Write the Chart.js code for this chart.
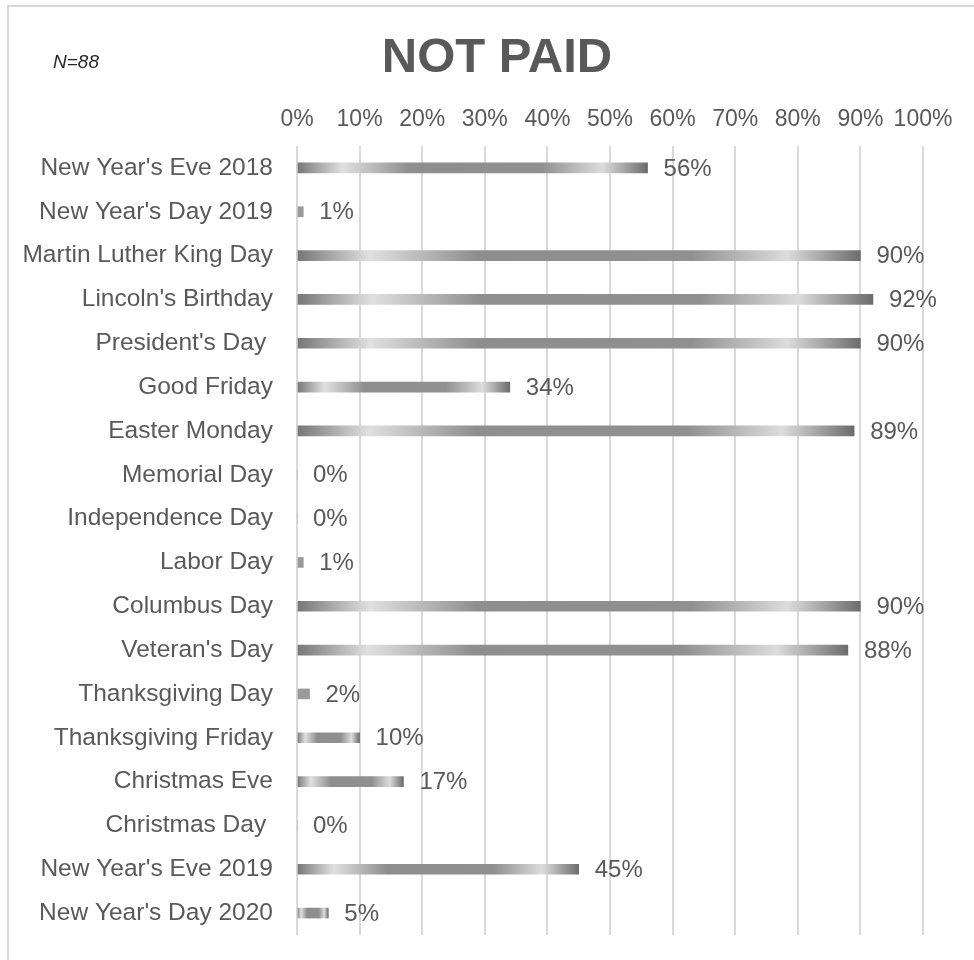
<!DOCTYPE html>
<html>
<head>
<meta charset="utf-8">
<script src="https://cdn.jsdelivr.net/npm/chart.js@4.4.0/dist/chart.umd.min.js"></script>
<style>
  body { margin: 0; background: #fff; overflow: hidden; }
  #wrap { position: relative; width: 974px; height: 960px; overflow: hidden; }
  #frame { position: absolute; left: 7px; top: 5px; width: 1100px; height: 1100px; border: 2px solid #d9d9d9; }
  canvas { position: absolute; left: 0; top: 0; }
</style>
</head>
<body>
<div id="wrap">
  <div id="frame"></div>
  <canvas id="graph" width="974" height="960"></canvas>
</div>
<script>
const holidays = [
  "New Year's Eve 2018", "New Year's Day 2019", "Martin Luther King Day", "Lincoln's Birthday",
  "President's Day ", "Good Friday", "Easter Monday", "Memorial Day", "Independence Day",
  "Labor Day", "Columbus Day", "Veteran's Day", "Thanksgiving Day", "Thanksgiving Friday",
  "Christmas Eve", "Christmas Day ", "New Year's Eve 2019", "New Year's Day 2020"
];
const notPaid = [56, 1, 90, 92, 90, 34, 89, 0, 0, 1, 90, 88, 2, 10, 17, 0, 45, 5];
const axisTicks = [0, 10, 20, 30, 40, 50, 60, 70, 80, 90, 100];

const chartTitle = "NOT PAID";
const sampleSize = "N=88";

const fontFamily = "'Liberation Sans', Arial, sans-serif";
const textColor = "#595959";

// gradient along each bar, like the excel fill
function barFill(context) {
  const chart = context.chart;
  if (!chart.chartArea) return "#999999";
  const xs = chart.scales.x;
  const x0 = xs.getPixelForValue(0);
  const x1 = xs.getPixelForValue(context.raw);
  if (x1 - x0 < 15) return "#9a9a9a"; // tiny bars just look flat grey
  const g = chart.ctx.createLinearGradient(x0, 0, x1, 0);
  g.addColorStop(0, "#767676");
  g.addColorStop(0.13, "#e0e0e0");
  g.addColorStop(0.32, "#8e8e8e");
  g.addColorStop(0.7, "#909090");
  g.addColorStop(0.87, "#dcdcdc");
  g.addColorStop(1, "#6c6c6c");
  return g;
}

const valueLabels = {
  id: "valueLabels",
  afterDatasetsDraw(chart) {
    const ctx = chart.ctx;
    const meta = chart.getDatasetMeta(0);
    ctx.save();
    ctx.font = "24px " + fontFamily;
    ctx.fillStyle = textColor;
    ctx.textAlign = "left";
    ctx.textBaseline = "middle";
    meta.data.forEach((bar, i) => {
      ctx.fillText(notPaid[i] + "%", bar.x + 16, bar.y + 1);
    });
    ctx.restore();
  }
};

const headerText = {
  id: "headerText",
  afterDraw(chart) {
    const ctx = chart.ctx;
    ctx.save();
    ctx.fillStyle = textColor;
    ctx.textBaseline = "middle";
    ctx.textAlign = "center";
    ctx.font = "bold 49px " + fontFamily;
    ctx.fillText(chartTitle, 497, 58);
    ctx.textAlign = "left";
    ctx.font = "italic 19px " + fontFamily;
    ctx.fillStyle = "#262626";
    ctx.fillText(sampleSize, 53, 63);
    ctx.restore();
  }
};

const dataGraph = {
  labels: holidays,
  datasets: [{
    label: "Not paid",
    data: notPaid,
    backgroundColor: barFill,
    barThickness: 10
  }]
};

const configGraph = {
  type: "bar",
  data: dataGraph,
  plugins: [valueLabels, headerText],
  options: {
    indexAxis: "y",
    responsive: false,
    animation: false,
    layout: { padding: { top: 0, right: 51, bottom: 25, left: 0 } },
    plugins: {
      legend: { display: false },
      tooltip: { enabled: false }
    },
    scales: {
      x: {
        position: "top",
        min: 0,
        max: 100,
        afterBuildTicks: (scale) => { scale.ticks = axisTicks.map(v => ({ value: v })); },
        afterFit: (scale) => {
          scale.height = 146;
          scale.paddingLeft = 0;
          scale.paddingRight = 0;
        },
        grid: { color: "#d9d9d9", lineWidth: 2, drawTicks: false },
        border: { display: false },
        ticks: {
          callback: (v) => v + "%",
          color: textColor,
          font: { family: fontFamily, size: 23 },
          padding: 13,
          maxRotation: 0,
          minRotation: 0,
          autoSkip: false
        }
      },
      y: {
        afterFit: (scale) => {
          scale.width = 297;
          scale.paddingTop = 0;
          scale.paddingBottom = 0;
        },
        grid: { display: false, drawTicks: false },
        border: { display: false },
        ticks: {
          color: textColor,
          font: { family: fontFamily, size: 24.5 },
          padding: 24
        }
      }
    }
  }
};

let graph = document.getElementById("graph");
let graphVisible = new Chart(graph, configGraph);
</script>
</body>
</html>
